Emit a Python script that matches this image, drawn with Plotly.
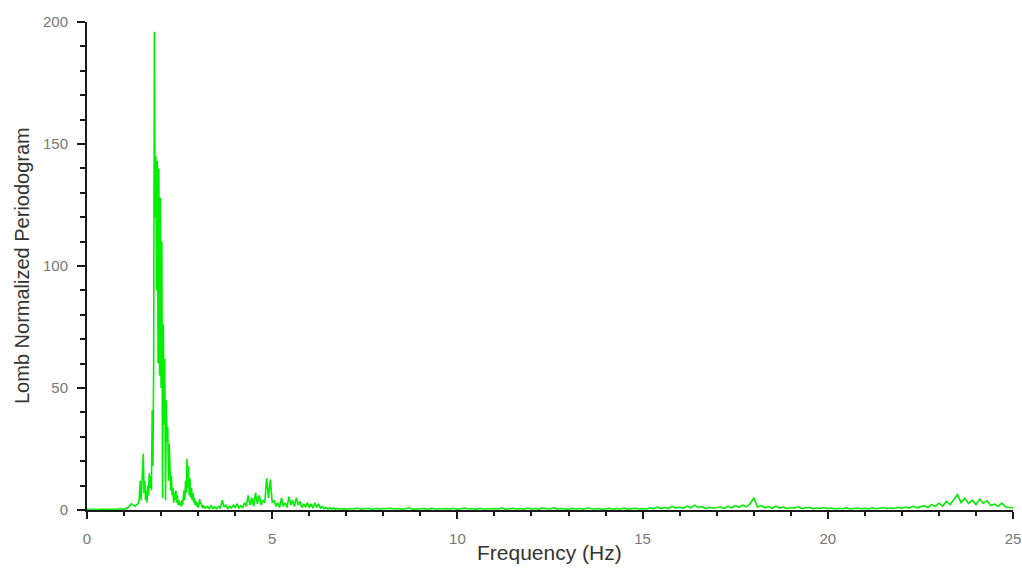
import numpy as np
import plotly.graph_objects as go

# ---- data (frequency segments: start, step) ----
seg_a_start, seg_a_step = 0.0, 0.1
seg_a_vals = [0.3, 0.2, 0.3, 0.2, 0.3, 0.2, 0.3, 0.25, 0.3, 0.5, 0.3, 0.9, 2.5, 1.5]

seg_b_start, seg_b_step = 1.40, 0.02
seg_b_vals = [3, 6, 12, 4, 10, 14, 23, 7, 12, 4,
              8, 3, 10, 6, 15, 9, 14, 8, 41, 18,
              60, 196, 120, 145, 90, 143, 60, 140, 55, 128,
              50, 110, 5, 76, 35, 62, 4, 45, 28, 34,
              12, 27, 19, 8, 14, 6, 9, 3, 7, 4,
              8, 3, 6, 2, 4, 2, 3, 1.5, 4, 2,
              5]

seg_c_start, seg_c_step = 2.62, 0.02
seg_c_vals = [8, 4, 12, 7, 21, 9, 18, 6, 13, 5,
              9, 4, 7, 3, 5, 2, 3.5, 1.5, 3, 1,
              2, 4.5, 2.5, 3, 1.5, 0.8, 2, 0.7, 1.2, 0.8]

seg_d_start, seg_d_step = 3.25, 0.05
seg_d_vals = [1.5, 0.6, 1.8, 0.7, 1.2, 0.5, 1.5, 0.8, 4, 1.2,
              2, 0.6, 1.5, 0.8, 2, 1, 2.5, 0.8, 1.8, 1,
              3, 1.5, 6, 2, 5, 1.5, 7, 2.5, 6, 2,
              4, 3, 13, 5, 12.5, 3, 4, 1.5, 3, 1,
              5, 1.5, 3, 1, 5.5, 2, 4, 1.5, 5, 2,
              3.5, 1, 2.5, 1.2, 3, 1, 2.5, 0.8, 3, 1,
              2.5, 0.8, 1.5, 0.5, 1, 0.4, 0.9, 0.4, 0.8, 0.3,
              0.7, 0.3, 0.6, 0.3, 0.6, 0.3]

seg_e_start, seg_e_step = 7.1, 0.1
seg_e_vals = [0.6, 0.4, 0.8, 0.3, 0.5, 0.7, 0.3, 0.6, 0.4,
              0.5, 0.3, 0.7, 0.4, 0.6, 0.3, 0.5, 0.8, 0.3, 0.5,
              0.4, 0.6, 0.3, 0.7, 0.4, 0.5, 0.3, 0.6, 0.4, 0.7,
              0.3, 0.5, 0.8, 0.4, 0.6, 0.3, 0.7, 0.4, 0.5, 0.3,
              0.6, 0.4, 0.9, 0.3, 0.5, 0.7, 0.4, 0.6, 0.3, 0.8,
              0.4, 0.6, 0.3, 0.9, 0.5, 0.4, 1.0, 0.3, 0.6, 0.5,
              0.3, 0.7, 0.4, 0.6, 0.3, 0.8, 0.5, 0.4, 0.6, 0.3,
              0.5, 0.7, 0.3, 0.6, 0.4, 0.8, 0.3, 0.5, 0.7, 0.4,
              0.6, 0.4, 0.9, 0.5, 1.2, 0.6, 1.0, 0.7, 1.5, 0.8,
              1.2, 0.7, 1.6, 0.9, 2.0, 1.0, 1.4, 0.6, 1.1, 0.7,
              0.8, 1.2, 0.6, 1.5, 0.9, 1.8, 1.1, 2.0, 1.3, 2.5,
              5.0, 1.2, 1.8, 0.9, 1.4, 0.7, 1.6, 0.8, 1.2, 0.6,
              1.0, 0.7, 1.3, 0.6, 0.9, 1.1, 0.5, 0.8, 0.6, 1.0,
              0.5, 0.8, 0.4, 0.7, 0.5, 0.9, 0.4, 0.6, 0.8, 0.5,
              0.7, 0.4, 0.9, 0.5, 0.6, 1.0, 0.5, 0.8, 0.6, 1.1,
              0.7, 1.2, 0.8, 1.5, 0.9, 1.4, 1.8, 1.0, 2.2, 1.5,
              2.8, 1.6, 3.5, 2.2, 4.2, 6.3, 3.0, 4.8, 2.6, 4.0,
              2.2, 4.5, 2.8, 3.8, 1.8, 2.4, 1.5, 2.8, 1.2, 1.0,
              0.8]

segments = [
    (seg_a_start, seg_a_step, seg_a_vals),
    (seg_b_start, seg_b_step, seg_b_vals),
    (seg_c_start, seg_c_step, seg_c_vals),
    (seg_d_start, seg_d_step, seg_d_vals),
    (seg_e_start, seg_e_step, seg_e_vals),
]

freq, power = [], []
for start, step, vals in segments:
    freq.extend(np.round(start + step * np.arange(len(vals)), 4).tolist())
    power.extend(vals)

x_ticks = [0, 5, 10, 15, 20, 25]
y_ticks = [0, 50, 100, 150, 200]

fig = go.Figure()
fig.add_trace(go.Scatter(x=freq, y=power, mode="lines",
                         line=dict(color="#00ee00", width=1.6),
                         hoverinfo="skip", showlegend=False))

axis_common = dict(
    showline=True, linecolor="#1a1a1a", linewidth=2,
    ticks="outside", tickcolor="#1a1a1a", tickwidth=2,
    showgrid=False, zeroline=False, layer="below traces", automargin=False,
    tickfont=dict(family="Liberation Sans, Arial, sans-serif", size=15, color="#777777"),
)

fig.update_xaxes(range=[0, 25], tickvals=x_ticks, ticklen=7, ticklabelstandoff=7,
                 minor=dict(dtick=1, ticklen=4, tickwidth=2, tickcolor="#1a1a1a", ticks="outside"),
                 **axis_common)
fig.update_yaxes(range=[0, 200], tickvals=y_ticks, ticklen=8, ticklabelstandoff=6,
                 minor=dict(dtick=10, ticklen=5, tickwidth=2, tickcolor="#1a1a1a", ticks="outside"),
                 **axis_common)

fig.add_annotation(text="Frequency (Hz)", xref="paper", yref="paper", x=0.499, y=-0.088,
                   xanchor="center", yanchor="middle", showarrow=False,
                   font=dict(family="Liberation Sans, Arial, sans-serif", size=21, color="#333333"))
fig.add_annotation(text="Lomb Normalized Periodogram", xref="paper", yref="paper", x=-0.0702, y=0.502,
                   xanchor="center", yanchor="middle", textangle=-90, showarrow=False,
                   font=dict(family="Liberation Sans, Arial, sans-serif", size=20, color="#333333"))

fig.update_layout(width=1022, height=568, margin=dict(l=87, r=9, t=22, b=58),
                  plot_bgcolor="white", paper_bgcolor="white")

fig.write_html("out.html")
